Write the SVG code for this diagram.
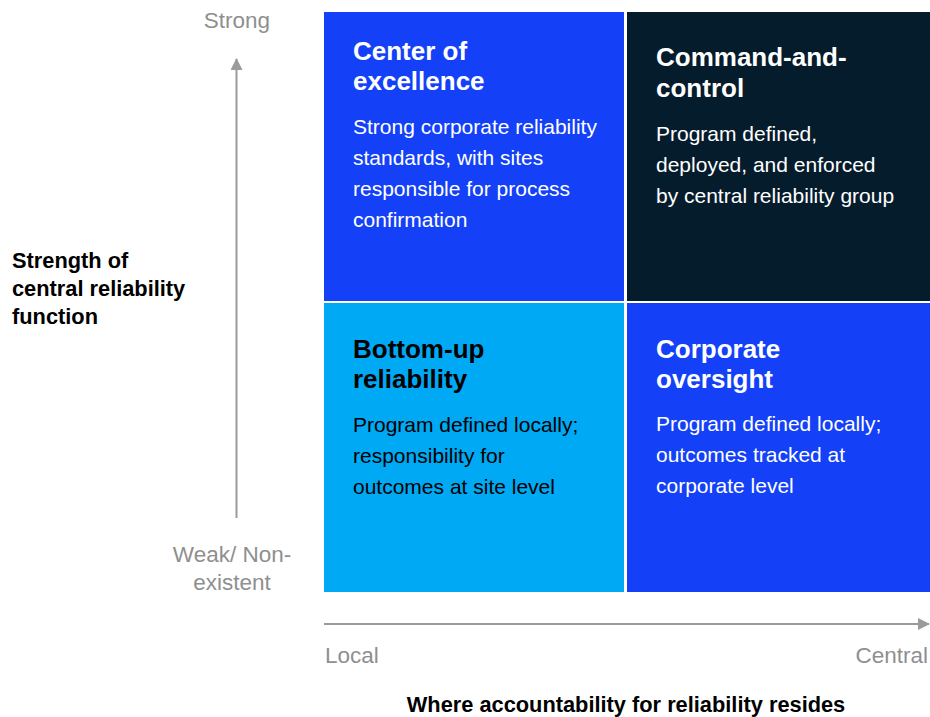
<svg xmlns="http://www.w3.org/2000/svg" width="930" height="717" viewBox="0 0 930 717">
<defs>
<style>
.title{font-family:"Liberation Sans",Arial,sans-serif;font-weight:bold;font-size:26px}
.body{font-family:"Liberation Sans",Arial,sans-serif;font-size:21px}
.axis{font-family:"Liberation Sans",Arial,sans-serif;font-size:22.5px;fill:#8f8f8f}
.label{font-family:"Liberation Sans",Arial,sans-serif;font-weight:bold;font-size:21.8px;fill:#000}
.w{fill:#ffffff}
.k{fill:#000000}
.ax{stroke:#9b9b9b;stroke-width:2;fill:none}
</style>
<marker id="arr" viewBox="0 0 12 12" refX="11" refY="6" markerWidth="12" markerHeight="12" markerUnits="userSpaceOnUse" orient="auto">
<path d="M0,0 L12,6 L0,12 Z" fill="#9b9b9b"/>
</marker>
</defs>
<rect width="930" height="717" fill="#ffffff"/>

<g id="q-center-of-excellence">
<rect x="324" y="12" width="300" height="289" fill="#1441F8"/>
<text class="title w" x="353" y="60">Center of</text>
<text class="title w" x="353" y="90">excellence</text>
<text class="body w" x="353" y="134">Strong corporate reliability</text>
<text class="body w" x="353" y="165">standards, with sites</text>
<text class="body w" x="353" y="196">responsible for process</text>
<text class="body w" x="353" y="227">confirmation</text>
</g>

<g id="q-command-and-control">
<rect x="627" y="12" width="303" height="289" fill="#051C2C"/>
<text class="title w" x="656" y="66">Command-and-</text>
<text class="title w" x="656" y="97">control</text>
<text class="body w" x="656" y="141">Program defined,</text>
<text class="body w" x="656" y="172">deployed, and enforced</text>
<text class="body w" x="656" y="203">by central reliability group</text>
</g>

<g id="q-bottom-up">
<rect x="324" y="303" width="300" height="289" fill="#00A9F4"/>
<text class="title k" x="353" y="358">Bottom-up</text>
<text class="title k" x="353" y="388">reliability</text>
<text class="body k" x="353" y="432">Program defined locally;</text>
<text class="body k" x="353" y="463">responsibility for</text>
<text class="body k" x="353" y="494">outcomes at site level</text>
</g>

<g id="q-corporate-oversight">
<rect x="627" y="303" width="303" height="289" fill="#1441F8"/>
<text class="title w" x="656" y="358">Corporate</text>
<text class="title w" x="656" y="388">oversight</text>
<text class="body w" x="656" y="431">Program defined locally;</text>
<text class="body w" x="656" y="462">outcomes tracked at</text>
<text class="body w" x="656" y="493">corporate level</text>
</g>

<g id="connectors">
<line class="ax" x1="236.5" y1="518" x2="236.5" y2="59" marker-end="url(#arr)"/>
<line class="ax" x1="324" y1="624" x2="929" y2="624" marker-end="url(#arr)"/>
</g>

<g id="axis-labels">
<text class="axis" x="237" y="28" text-anchor="middle">Strong</text>
<text class="axis" x="232" y="562" text-anchor="middle">Weak/ Non-</text>
<text class="axis" x="232" y="590" text-anchor="middle">existent</text>
<text class="axis" x="325" y="663">Local</text>
<text class="axis" x="928" y="663" text-anchor="end">Central</text>
<text class="label" x="12" y="268">Strength of</text>
<text class="label" x="12" y="296">central reliability</text>
<text class="label" x="12" y="324">function</text>
<text class="label" x="626" y="712" text-anchor="middle">Where accountability for reliability resides</text>
</g>
</svg>
